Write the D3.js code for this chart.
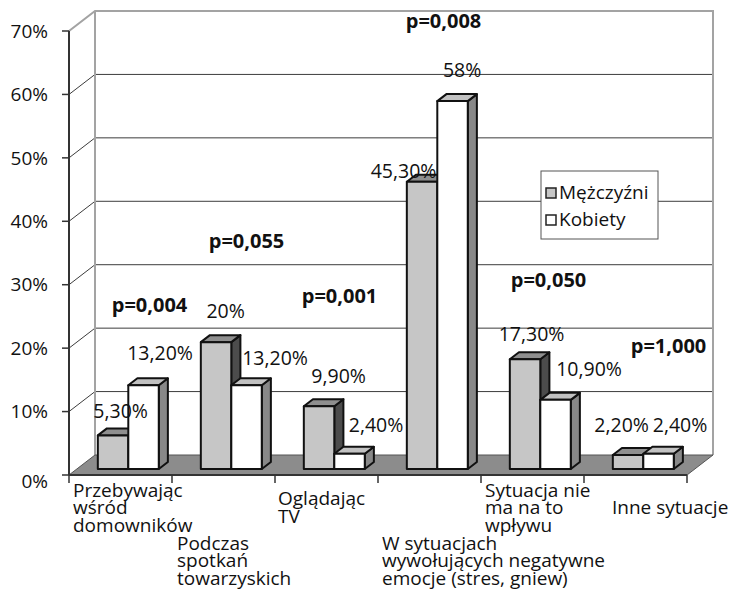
<!DOCTYPE html>
<html>
<head>
<meta charset="utf-8">
<script src="https://cdn.jsdelivr.net/npm/d3@7"></script>
<style>
  body { margin: 0; background: #fff; }
  svg text { font-family: "Open Sans", "DejaVu Sans", sans-serif; fill: #111; }
</style>
</head>
<body>
<div id="chart"></div>
<script>
// data
var categories = [
  ["Przebywając", "wśród", "domowników"],
  ["Podczas", "spotkań", "towarzyskich"],
  ["Oglądając", "TV"],
  ["W sytuacjach", "wywołujących negatywne", "emocje (stres, gniew)"],
  ["Sytuacja nie", "ma na to", "wpływu"],
  ["Inne sytuacje"]
];
var seriesNames = ["Mężczyźni", "Kobiety"];
var men = [5.3, 20, 9.9, 45.3, 17.3, 2.2];
var women = [13.2, 13.2, 2.4, 58, 10.9, 2.4];
var menLabels = ["5,30%", "20%", "9,90%", "45,30%", "17,30%", "2,20%"];
var womenLabels = ["13,20%", "13,20%", "2,40%", "58%", "10,90%", "2,40%"];
var pTexts = ["p=0,004", "p=0,055", "p=0,001", "p=0,008", "p=0,050", "p=1,000"];
var pLevels = [25.7, 35.8, 27.1, 70.5, 29.7, 19.2];   // y level (in %) where each p note sits
var yTicks = [0, 10, 20, 30, 40, 50, 60, 70];

// layout
var W = 731, H = 591;
var plotLeft = 69, plotRight = 687, plotBottom = 475, plotTop = 31;
var depthX = 26, depthY = -20;          // full depth of the 3d box
var barZ = 0.3, barDepth = 0.35;        // bar position inside the box depth
var fillColors = [{front: "#c6c6c6", top: "#8f8f8f", side: "#4c4c4c"},
                  {front: "#ffffff", top: "#c2c2c2", side: "#888888"}];
// small nudges the original chart applies to its labels
var labelDx = [[3, 5, 15, -23, 2, -11], [12, 24, 22, 5, 29, 17]];
var labelDy = [[-10, -17, -16, 3, -11, -16], [-18, -13, -15, -17, -17, -15]];
var pDx = [16, 10, 0, 1, 3, 20];
var catDx = [4, 5, 3, 4, 4, 28];

var svg = d3.select("#chart").append("svg").attr("width", W).attr("height", H);

var x = d3.scaleBand().domain(d3.range(categories.length)).range([plotLeft, plotRight]);
var xs = d3.scaleBand().domain([0, 1]).range([0, x.bandwidth()]).paddingOuter(0.69);
var y = d3.scaleLinear().domain([0, 70]).range([plotBottom, plotTop]);

function shift(z) { return [depthX * z, depthY * z]; }

// back wall
var bk = shift(1);
svg.append("rect")
  .attr("x", plotLeft + bk[0]).attr("y", y(70) + bk[1])
  .attr("width", plotRight - plotLeft).attr("height", y(0) - y(70))
  .attr("fill", "#fff");

var inner = yTicks.filter(d => d > 0 && d < 70);
svg.append("g").selectAll("line").data(inner).enter()
  .append("line")
  .attr("x1", plotLeft + bk[0]).attr("x2", plotRight + bk[0])
  .attr("y1", d => y(d) + bk[1]).attr("y2", d => y(d) + bk[1])
  .attr("stroke", "#3c3c3c").attr("stroke-width", 1);

// side wall diagonals
svg.append("g").selectAll("line").data(inner).enter()
  .append("line")
  .attr("x1", plotLeft).attr("y1", d => y(d))
  .attr("x2", plotLeft + bk[0]).attr("y2", d => y(d) + bk[1])
  .attr("stroke", "#3c3c3c").attr("stroke-width", 1);

// wall border
svg.append("path")
  .attr("d", "M" + plotLeft + "," + y(70) +
    "L" + (plotLeft + bk[0]) + "," + (y(70) + bk[1]) +
    "L" + (plotRight + bk[0]) + "," + (y(70) + bk[1]) +
    "L" + (plotRight + bk[0]) + "," + (y(0) + bk[1]) +
    "M" + (plotLeft + bk[0]) + "," + (y(70) + bk[1]) +
    "L" + (plotLeft + bk[0]) + "," + (y(0) + bk[1]))
  .attr("fill", "none").attr("stroke", "#a3a3a3").attr("stroke-width", 2);

// floor
svg.append("path")
  .attr("d", "M" + plotLeft + "," + y(0) + "L" + plotRight + "," + y(0) +
    "L" + (plotRight + bk[0]) + "," + (y(0) + bk[1]) +
    "L" + (plotLeft + bk[0]) + "," + (y(0) + bk[1]) + "Z")
  .attr("fill", "#8c8c8c").attr("stroke", "#555").attr("stroke-width", 1);

// bars
var bars = [];
categories.forEach(function(c, i) {
  [men, women].forEach(function(s, k) {
    bars.push({cat: i, series: k, value: s[i], label: (k ? womenLabels : menLabels)[i]});
  });
});

var z0 = shift(barZ), dz = shift(barDepth);
bars.forEach(function(b) {
  b.x0 = x(b.cat) + xs(b.series) + z0[0];
  b.w = xs.bandwidth();
  b.y0 = y(0) + z0[1];
  b.y1 = y(b.value) + z0[1];
});

var bar = svg.append("g").selectAll("g").data(bars).enter().append("g")
  .attr("stroke", "#111").attr("stroke-width", 2).attr("stroke-linejoin", "round");

bar.append("path")
  .attr("fill", d => fillColors[d.series].side)
  .attr("d", d => "M" + (d.x0 + d.w) + "," + d.y1 +
    "l" + dz[0] + "," + dz[1] + "L" + (d.x0 + d.w + dz[0]) + "," + (d.y0 + dz[1]) +
    "L" + (d.x0 + d.w) + "," + d.y0 + "Z");
bar.append("path")
  .attr("fill", d => fillColors[d.series].top)
  .attr("d", d => "M" + d.x0 + "," + d.y1 + "h" + d.w +
    "l" + dz[0] + "," + dz[1] + "h" + (-d.w) + "Z");
bar.append("rect")
  .attr("fill", d => fillColors[d.series].front)
  .attr("x", d => d.x0).attr("y", d => d.y1)
  .attr("width", d => d.w).attr("height", d => d.y0 - d.y1);

// value labels
svg.append("g").selectAll("text").data(bars).enter().append("text")
  .attr("text-anchor", "middle")
  .attr("font-size", 19.5)
  .attr("x", d => d.x0 + d.w / 2 + dz[0] / 2 + labelDx[d.series][d.cat])
  .attr("y", d => d.y1 + dz[1] + labelDy[d.series][d.cat])
  .text(d => d.label);

// p-value notes
svg.append("g").selectAll("text").data(pTexts).enter().append("text")
  .attr("text-anchor", "middle")
  .attr("font-size", 20).attr("font-weight", "bold")
  .attr("x", (d, i) => x(i) + x.bandwidth() / 2 + depthX / 2 + pDx[i])
  .attr("y", (d, i) => y(pLevels[i]))
  .text(d => d);

// axes
svg.append("line")
  .attr("x1", plotLeft).attr("x2", plotLeft).attr("y1", y(70)).attr("y2", y(0))
  .attr("stroke", "#333").attr("stroke-width", 2);
svg.append("line")
  .attr("x1", plotLeft).attr("x2", plotRight).attr("y1", y(0)).attr("y2", y(0))
  .attr("stroke", "#333").attr("stroke-width", 2);

var yAxis = svg.append("g");
yAxis.selectAll("line").data(yTicks).enter().append("line")
  .attr("x1", plotLeft - 7).attr("x2", plotLeft).attr("y1", d => y(d)).attr("y2", d => y(d))
  .attr("stroke", "#333").attr("stroke-width", 1.5);
yAxis.selectAll("text").data(yTicks).enter().append("text")
  .attr("text-anchor", "end").attr("font-size", 19)
  .attr("x", 48).attr("y", d => y(d) + (d === 0 ? 6 : 0)).attr("dy", "0.35em")
  .text(d => d + "%");

var catEdges = d3.range(categories.length + 1).map(i => plotLeft + i * x.step());
svg.append("g").selectAll("line").data(catEdges).enter().append("line")
  .attr("x1", d => d).attr("x2", d => d).attr("y1", y(0)).attr("y2", y(0) + 8)
  .attr("stroke", "#333").attr("stroke-width", 1.5);

// category labels, staggered on two rows
var lineH = 17.5;
var catText = svg.append("g").selectAll("text").data(categories).enter().append("text")
  .attr("font-size", 19)
  .attr("x", (d, i) => x(i) + catDx[i])
  .attr("y", (d, i) => (i === 1 || i === 3 ? 567 : 514) - (d.length - 1) * lineH / 2);
catText.selectAll("tspan").data(d => d).enter().append("tspan")
  .attr("x", function() { return d3.select(this.parentNode).attr("x"); })
  .attr("dy", (d, j) => j ? lineH : 0)
  .text(d => d);

// legend
var legend = svg.append("g").attr("transform", "translate(541,171)");
legend.append("rect").attr("width", 117).attr("height", 68)
  .attr("fill", "#fff").attr("stroke", "#555").attr("stroke-width", 1);
var item = legend.selectAll("g.item").data(seriesNames).enter().append("g")
  .attr("class", "item")
  .attr("transform", (d, i) => "translate(5," + (17 + i * 27) + ")");
item.append("rect").attr("width", 10).attr("height", 10)
  .attr("fill", (d, i) => fillColors[i].front)
  .attr("stroke", "#222").attr("stroke-width", 1.5);
item.append("text").attr("x", 13).attr("y", 11).attr("font-size", 19)
  .text(d => d);
</script>
</body>
</html>
